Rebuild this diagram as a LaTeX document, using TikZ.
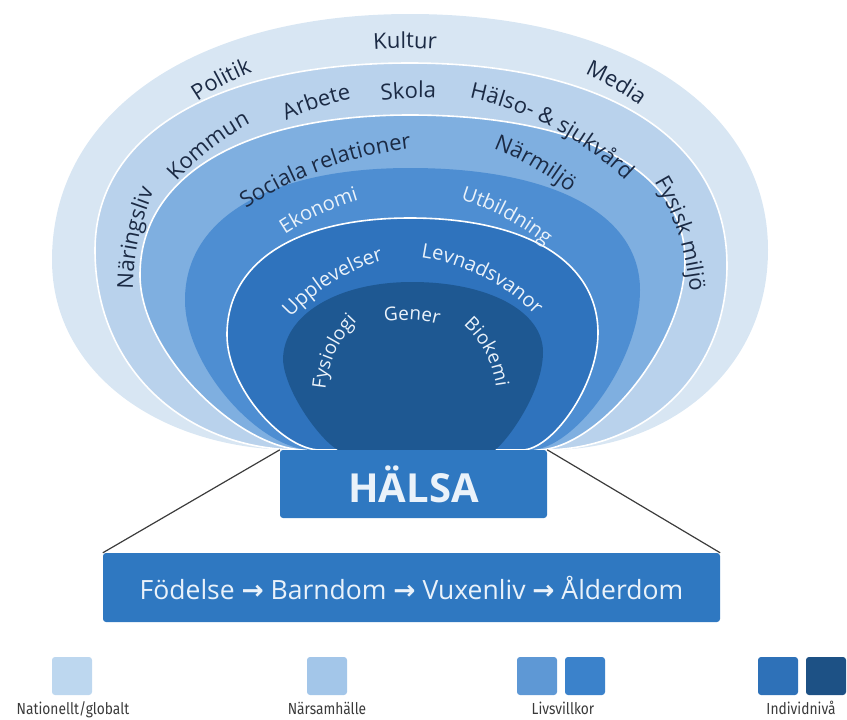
\documentclass[tikz,border=0pt]{standalone}
\usepackage{fontspec}
\setmainfont{Open Sans}
\newfontfamily\arrowfont{DejaVu Sans}
\newfontfamily\legendfont[FakeStretch=0.86]{Fira Sans}
\usetikzlibrary{decorations.text}

\definecolor{layA}{HTML}{D8E6F3}
\definecolor{layB}{HTML}{B9D2EC}
\definecolor{layC}{HTML}{7FAFE0}
\definecolor{layD}{HTML}{4E8ED2}
\definecolor{layE}{HTML}{2F73BD}
\definecolor{layF}{HTML}{1E5892}
\definecolor{boxblue}{HTML}{2F78C1}
\definecolor{labdark}{HTML}{1B2A44}
\definecolor{lablight}{HTML}{EAF2FA}
\definecolor{fangray}{HTML}{3C3C3C}
\definecolor{legA}{HTML}{BDD7EF}
\definecolor{legB}{HTML}{A3C6E9}
\definecolor{legCa}{HTML}{5E98D5}
\definecolor{legCb}{HTML}{3B82CB}
\definecolor{legDa}{HTML}{2E71B8}
\definecolor{legDb}{HTML}{1D5185}
\definecolor{legtextcol}{HTML}{3A3A3A}

\newcommand\darklab{\fontsize{22}{26}\selectfont\color{labdark}}
\newcommand\lightlab{\fontsize{20}{24}\selectfont\color{lablight}}
\newcommand\corelab{\fontsize{19}{23}\selectfont\color{lablight}}

\tikzset{
  arclab/.style={decorate, decoration={text along path, text align=center, text={#1}}},
  ring/.style={draw=white, line width=1.6pt},
  lifebox/.style={fill=boxblue, rounded corners=3pt, text=lablight, inner sep=0pt},
  fanline/.style={draw=fangray, line width=1.2pt},
  swatch/.style={minimum width=40pt, minimum height=38pt, rounded corners=3pt, inner sep=0pt},
  legtext/.style={font=\legendfont\fontsize{16}{18}\selectfont, text=legtextcol, anchor=base},
}

\begin{document}
\begin{tikzpicture}[x=1pt,y=-1pt]
\useasboundingbox (0,0) rectangle (847,720);
% layers, outer to inner
\fill[layA] (296,450) .. controls (162,450) and (52,374) .. (52,260) .. controls (52,112) and (195,14) .. (410,14) .. controls (625,14) and (768,108) .. (768,250) .. controls (768,370) and (669,450) .. (548,450) -- cycle;
\path[fill=layB, ring] (300,450) .. controls (187,450) and (95,370) .. (95,250) .. controls (95,134) and (215,63) .. (410,63) .. controls (607,63) and (727,140) .. (727,265) .. controls (727,376) and (644,450) .. (543,450) -- cycle;
\path[fill=layC, ring] (306,450) .. controls (240,450) and (140,354) .. (140,275) .. controls (140,176) and (243,115) .. (410,115) .. controls (580,115) and (685,170) .. (685,260) .. controls (685,346) and (596,450) .. (537,450) -- cycle;
\fill[layD] (312,450) .. controls (261,450) and (185,368) .. (185,300) .. controls (185,218) and (270,168) .. (410,168) .. controls (553,168) and (640,214) .. (640,290) .. controls (640,362) and (574,450) .. (530,450) -- cycle;
\path[fill=layE, ring] (320,450) .. controls (283,450) and (227,388) .. (227,335) .. controls (227,262) and (296,218) .. (410,218) .. controls (527,218) and (598,262) .. (598,333) .. controls (598,386) and (552,450) .. (522,450) -- cycle;
\fill[layF] (338,450) .. controls (320,440) and (285,392) .. (283,360) .. controls (283,315) and (337,282) .. (412,282) .. controls (488,282) and (543,311) .. (543,352) .. controls (543,392) and (508,440) .. (495,450) -- cycle;
% outer ring labels
\path[arclab={|\darklab|Kultur}] (405,498) ++(260:450) arc[start angle=260, end angle=280, radius=450];
\path[arclab={|\darklab|Politik}] (365,350) ++(230:300) arc[start angle=230, end angle=254, radius=300];
\path[arclab={|\darklab|Media}] (463,348) ++(288:300) arc[start angle=288, end angle=312, radius=300];
% second ring labels
\path[arclab={|\darklab|Näringsliv}] (383,291) ++(172:250) arc[start angle=172, end angle=212, radius=250];
\path[arclab={|\darklab|Kommun}] (371,354) ++(214:260) arc[start angle=214, end angle=250, radius=260];
\path[arclab={|\darklab|Arbete}] (411,393) ++(240:300) arc[start angle=240, end angle=264, radius=300];
\path[arclab={|\darklab|Skola}] (419,398) ++(258:300) arc[start angle=258, end angle=278, radius=300];
\path[arclab={|\darklab|Hälso- {\&} sjukvård}] (403,411) ++(270:320) arc[start angle=270, end angle=326, radius=320];
\path[arclab={|\darklab|Fysisk miljö}] (431,315) ++(320:260) arc[start angle=320, end angle=364, radius=260];
% third ring labels
\path[arclab={|\darklab|Sociala relationer}] (455,526) ++(226:380) arc[start angle=226, end angle=274, radius=380];
\path[arclab={|\darklab|Närmiljö}] (393,410) ++(284:280) arc[start angle=284, end angle=316, radius=280];
% inner labels
\path[arclab={|\lightlab|Ekonomi}] (439,468) ++(230:280) arc[start angle=230, end angle=260, radius=280];
\path[arclab={|\lightlab|Utbildning}] (388,439) ++(278:250) arc[start angle=278, end angle=318, radius=250];
\path[arclab={|\lightlab|Upplevelser}] (439,452) ++(210:200) arc[start angle=210, end angle=266, radius=200];
\path[arclab={|\lightlab|Levnadsvanor}] (392,455) ++(265:200) arc[start angle=265, end angle=329, radius=200];
\path[arclab={|\corelab|Fysiologi}] (435,399) ++(169:110) arc[start angle=169, end angle=241, radius=110];
\path[arclab={|\corelab|Gener}] (405,450) ++(251:130) arc[start angle=251, end angle=295, radius=130];
\path[arclab={|\corelab|Biokemi}] (397,400) ++(296:100) arc[start angle=296, end angle=368, radius=100];
% health and life course
\node[lifebox, minimum width=267pt, minimum height=68pt, font=\bfseries\fontsize{40}{48}\selectfont] (halsa) at (413.5,484) {HÄLSA};
\node[lifebox, minimum width=617pt, minimum height=69pt, font=\fontsize{26.5}{30}\selectfont] (life) at (411.5,587.5) {Födelse {\arrowfont\bfseries →} Barndom {\arrowfont\bfseries →} Vuxenliv {\arrowfont\bfseries →} Ålderdom};
\draw[fanline] (halsa.north west) -- (life.north west);
\draw[fanline] (halsa.north east) -- (life.north east);
% legend
\node[swatch, fill=legA] (natsq) at (72,676) {};
\node[legtext] (natlab) at (73,714) {Nationellt/globalt};
\node[swatch, fill=legB] (narsq) at (327,676) {};
\node[legtext] (narlab) at (327,714) {Närsamhälle};
\node[swatch, fill=legCa] (livsqa) at (537,676) {};
\node[swatch, fill=legCb] (livsqb) at (585,676) {};
\node[legtext] (livlab) at (563,714) {Livsvillkor};
\node[swatch, fill=legDa] (indsqa) at (778,676) {};
\node[swatch, fill=legDb] (indsqb) at (826,676) {};
\node[legtext] (indlab) at (801,714) {Individnivå};
\end{tikzpicture}
\end{document}
